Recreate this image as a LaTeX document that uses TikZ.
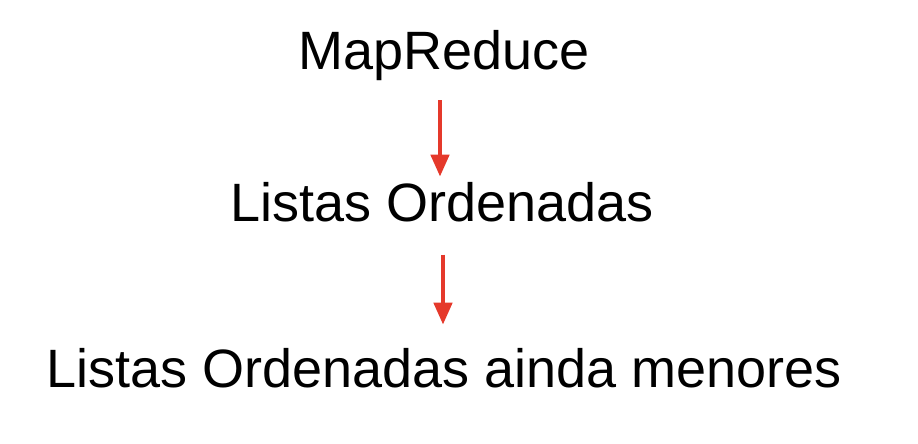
\documentclass[tikz,border=0pt]{standalone}
\usepackage{fontspec}
\setmainfont{Liberation Sans}
\usetikzlibrary{arrows.meta}
\definecolor{vermelho}{RGB}{229,57,43}
\tikzset{
    titulo/.style={inner sep=0pt, anchor=base, font=\fontsize{54}{60}\selectfont},
    seta/.style={draw=vermelho, line width=4.5pt, -{Triangle[length=22pt,width=18pt]}}
}
\begin{document}
\begin{tikzpicture}[x=1pt,y=-1pt]
                \useasboundingbox (0,0) rectangle (918,444);
                \node[titulo] (map) at (444,70) {MapReduce};
                \node[titulo] (listas) at (442,221) {Listas Ordenadas};
                \node[titulo] (menores) at (444,387) {Listas Ordenadas ainda menores};
                \draw[seta, shorten <=19pt, shorten >=5pt]
                    ([xshift=-4pt]map.south) -- ([xshift=-2pt]listas.north);
                \draw[seta, shorten <=33pt, shorten >=23pt]
                    ([xshift=1pt]listas.south) -- ([xshift=-1pt]menores.north);
            \end{tikzpicture}
\end{document}
